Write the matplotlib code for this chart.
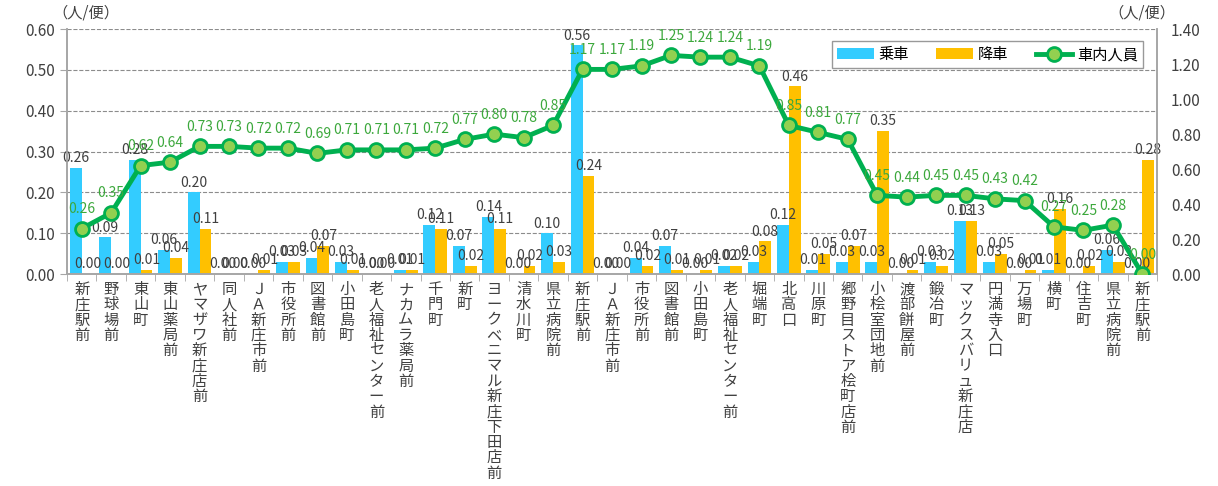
"""Bus route: boarding / alighting per trip and passengers on board"""

import numpy as np
import matplotlib
matplotlib.use("Agg")
import matplotlib.pyplot as plt

plt.rcParams["font.family"] = ["Noto Sans CJK JP", "DejaVu Sans"]

# Stops along the route
stops = [
    "新庄駅前", "野球場前", "東山町", "東山薬局前", "ヤマザワ新庄店前", "同人社前",
    "ＪＡ新庄市前", "市役所前", "図書館前", "小田島町", "老人福祉センター前",
    "ナカムラ薬局前", "千門町", "新町", "ヨークベニマル新庄下田店前", "清水川町",
    "県立病院前", "新庄駅前", "ＪＡ新庄市前", "市役所前", "図書館前", "小田島町",
    "老人福祉センター前", "堀端町", "北高口", "川原町", "郷野目ストア桧町店前",
    "小桧室団地前", "渡部餅屋前", "鍛冶町", "マックスバリュ新庄店", "円満寺入口",
    "万場町", "横町", "住吉町", "県立病院前", "新庄駅前",
]

# 乗車 (persons per trip)
boarding = [0.26, 0.09, 0.28, 0.06, 0.20, 0.00, 0.00, 0.03, 0.04, 0.03, 0.00, 0.01,
            0.12, 0.07, 0.14, 0.00, 0.10, 0.56, 0.00, 0.04, 0.07, 0.00, 0.02, 0.03,
            0.12, 0.01, 0.03, 0.03, 0.00, 0.03, 0.13, 0.03, 0.00, 0.01, 0.00, 0.06,
            0.00]

# 降車 (persons per trip)
alighting = [0.00, 0.00, 0.01, 0.04, 0.11, 0.00, 0.01, 0.03, 0.07, 0.01, 0.00, 0.01,
             0.11, 0.02, 0.11, 0.02, 0.03, 0.24, 0.00, 0.02, 0.01, 0.01, 0.02, 0.08,
             0.46, 0.05, 0.07, 0.35, 0.01, 0.02, 0.13, 0.05, 0.01, 0.16, 0.02, 0.03,
             0.28]

# 車内人員 (right axis)
onboard = [0.26, 0.35, 0.62, 0.64, 0.73, 0.73, 0.72, 0.72, 0.69, 0.71, 0.71, 0.71,
           0.72, 0.77, 0.80, 0.78, 0.85, 1.17, 1.17, 1.19, 1.25, 1.24, 1.24, 1.19,
           0.85, 0.81, 0.77, 0.45, 0.44, 0.45, 0.45, 0.43, 0.42, 0.27, 0.25, 0.28,
           0.00]

blue = "#33CCFF"
orange = "#FFC000"
green = "#00B050"
light_green = "#92D050"
label_green = "#3CA83C"
text_gray = "#404040"
axis_gray = "#A6A6A6"

fig = plt.figure(figsize=(12.18, 4.86), dpi=100)
ax = fig.add_axes([0.055, 0.436, 0.895, 0.504])
ax2 = ax.twinx()

x = np.arange(len(stops))
w = 0.4
bars_on = ax.bar(x - w / 2, boarding, w, color=blue, label="乗車", zorder=2)
bars_off = ax.bar(x + w / 2, alighting, w, color=orange, label="降車", zorder=2)
ax.bar_label(bars_on, fmt="%.2f", padding=2, fontsize=10, color=text_gray)
ax.bar_label(bars_off, fmt="%.2f", padding=2, fontsize=10, color=text_gray)

line, = ax2.plot(x, onboard, color=green, lw=3.5, marker="o", markersize=10,
                 markerfacecolor=light_green, markeredgecolor=green,
                 markeredgewidth=2, label="車内人員", zorder=3)
for xi, v in zip(x, onboard):
    ax2.annotate(f"{v:.2f}", (xi, v), xytext=(0, 9), textcoords="offset points",
                 ha="center", va="bottom", fontsize=10, color=label_green)

# Axes formatting
ax.set_xlim(-0.5, len(stops) - 0.5)
ax.set_ylim(0, 0.6)
ax2.set_ylim(0, 1.4)
ax.set_yticks(np.arange(0, 0.61, 0.1))
ax.set_yticklabels([f"{t:.2f}" for t in np.arange(0, 0.61, 0.1)])
ax2.set_yticks(np.arange(0, 1.41, 0.2))
ax2.set_yticklabels([f"{t:.2f}" for t in np.arange(0, 1.41, 0.2)])
ax.grid(axis="y", color="#8C8C8C", linestyle="--", linewidth=0.8, zorder=0)
ax.set_axisbelow(True)

ax.set_xticks(x)
ax.set_xticklabels(["\n".join(s) for s in stops], va="top", linespacing=0.87)
ax.set_xticks(np.arange(-0.5, len(stops), 1), minor=True)
ax.tick_params(axis="x", which="major", length=0, labelsize=11,
               labelcolor=text_gray, pad=5)
ax.tick_params(axis="x", which="minor", length=5, color=axis_gray)
ax.tick_params(axis="y", labelsize=11, labelcolor=text_gray, length=5,
               color=axis_gray)
ax2.tick_params(axis="y", labelsize=11, labelcolor=text_gray, length=0, pad=10)

for a in (ax, ax2):
    for side in ("left", "bottom", "right"):
        a.spines[side].set_color(axis_gray)
        a.spines[side].set_linewidth(1.2)
    a.spines["top"].set_visible(False)

ax.text(0.017, 1.03, "（人/便）", transform=ax.transAxes, ha="center",
        va="bottom", fontsize=11, color=text_gray)
ax2.text(0.986, 1.03, "（人/便）", transform=ax.transAxes, ha="center",
         va="bottom", fontsize=11, color=text_gray)

ax2.legend([bars_on, bars_off, line], ["乗車", "降車", "車内人員"], ncol=3,
           loc="upper right", bbox_to_anchor=(0.99, 0.965), fontsize=11,
           frameon=True, fancybox=False, edgecolor="#808080",
           handlelength=2.4, handletextpad=0.3, columnspacing=1.8,
           borderpad=0.35, borderaxespad=0.2)

fig.savefig("out.png", dpi=100)
